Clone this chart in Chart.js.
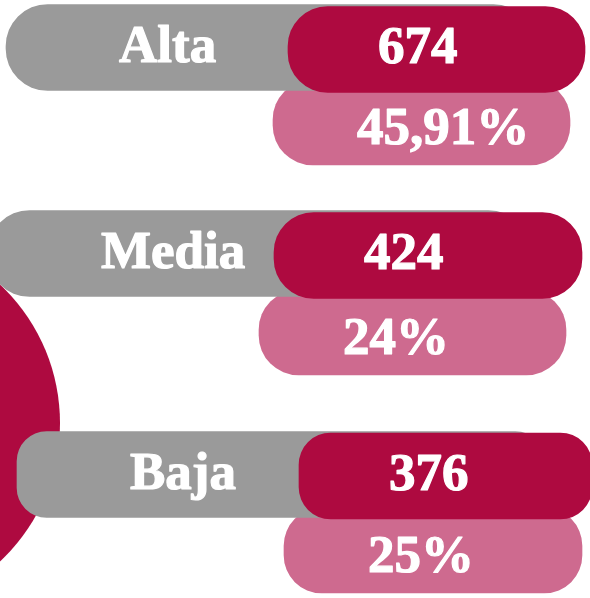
<!DOCTYPE html>
<html>
<head>
<meta charset="utf-8">
<script src="https://cdn.jsdelivr.net/npm/chart.js@4/dist/chart.umd.min.js"></script>
<style>
  html, body { margin: 0; padding: 0; background: #ffffff; overflow: hidden; }
  #wrap { width: 590px; height: 598px; }
</style>
</head>
<body>
<div id="wrap"><canvas id="c" width="590" height="598"></canvas></div>
<script>
// ---- data ----
const categories = ['Alta', 'Media', 'Baja'];
const counts = [674, 424, 376];
const percents = [45.91, 24, 25];

// ---- layout (positions in canvas units, not data) ----
const rowGray    = [47.5, 253.5, 474.5];
const rowCount   = [49.5, 255.5, 476];
const rowPct     = [122.5, 332.5, 550.5];
const spanGray   = [[6, 535], [-12, 530], [17, 545]];
const spanCount  = [[288, 585], [274, 582], [299, 592]];
const spanPct    = [[273, 570], [259, 566], [284, 582]];
const radGray  = [42, 42, 30];
const radCount = [40, 40, 32];
const radPct   = [40, 40, 38];
const circle = { x: -130, y: 423, r: 190 };

const GRAY = '#9a9a9a', CRIMSON = '#ae0a40', PINK = '#ce6a8f';

function fmtPct(v) { return String(v).replace('.', ',') + '%'; }

const textPlugin = {
  id: 'pillText',
  afterDatasetsDraw(chart) {
    const ctx = chart.ctx;
    ctx.save();
    ctx.fillStyle = '#ffffff';
    ctx.strokeStyle = '#ffffff';
    ctx.lineWidth = 1.2;
    ctx.lineJoin = 'round';
    ctx.font = 'bold 53px "Liberation Serif", serif';
    ctx.textAlign = 'left';
    ctx.textBaseline = 'alphabetic';
    const specs = [
      { ds: 1, text: i => categories[i], dx: 113, dy: 14.5 },
      { ds: 0, text: i => String(counts[i]), dx: 90, dy: 13.5 },
      { ds: 2, text: i => fmtPct(percents[i]), dx: 84, dy: 21.5 }
    ];
    specs.forEach(s => {
      const meta = chart.getDatasetMeta(s.ds);
      meta.data.forEach((el, i) => {
        const left = Math.min(el.x, el.base);
        const t = s.text(i);
        ctx.fillText(t, left + s.dx, el.y + s.dy);
        ctx.strokeText(t, left + s.dx, el.y + s.dy);
      });
    });
    ctx.restore();
  }
};

new Chart(document.getElementById('c'), {
  type: 'bar',
  data: {
    datasets: [
      {
        label: 'Casos',
        data: categories.map((c, i) => ({ x: spanCount[i], y: rowCount[i] })),
        backgroundColor: CRIMSON,
        borderRadius: radCount,
        borderSkipped: false,
        barThickness: 86,
        grouped: false,
        order: 0
      },
      {
        label: 'Categoría',
        data: categories.map((c, i) => ({ x: spanGray[i], y: rowGray[i] })),
        backgroundColor: GRAY,
        borderRadius: radGray,
        borderSkipped: false,
        barThickness: 86,
        grouped: false,
        order: 1
      },
      {
        label: 'Porcentaje',
        data: categories.map((c, i) => ({ x: spanPct[i], y: rowPct[i] })),
        backgroundColor: PINK,
        borderRadius: radPct,
        borderSkipped: false,
        barThickness: 85,
        grouped: false,
        order: 2
      },
      {
        type: 'bubble',
        label: 'deco',
        data: [{ x: circle.x, y: circle.y, r: circle.r }],
        backgroundColor: CRIMSON,
        borderWidth: 0,
        hoverRadius: 0,
        order: 3
      }
    ]
  },
  options: {
    indexAxis: 'y',
    responsive: false,
    animation: false,
    devicePixelRatio: 1,
    events: [],
    layout: { padding: 0, autoPadding: false },
    plugins: { legend: { display: false }, tooltip: { enabled: false } },
    scales: {
      x: { type: 'linear', min: 0, max: 590, display: false, grace: 0, offset: false },
      y: { type: 'linear', min: 0, max: 598, reverse: true, display: false, grace: 0, offset: false }
    }
  },
  plugins: [textPlugin]
});
</script>
</body>
</html>
